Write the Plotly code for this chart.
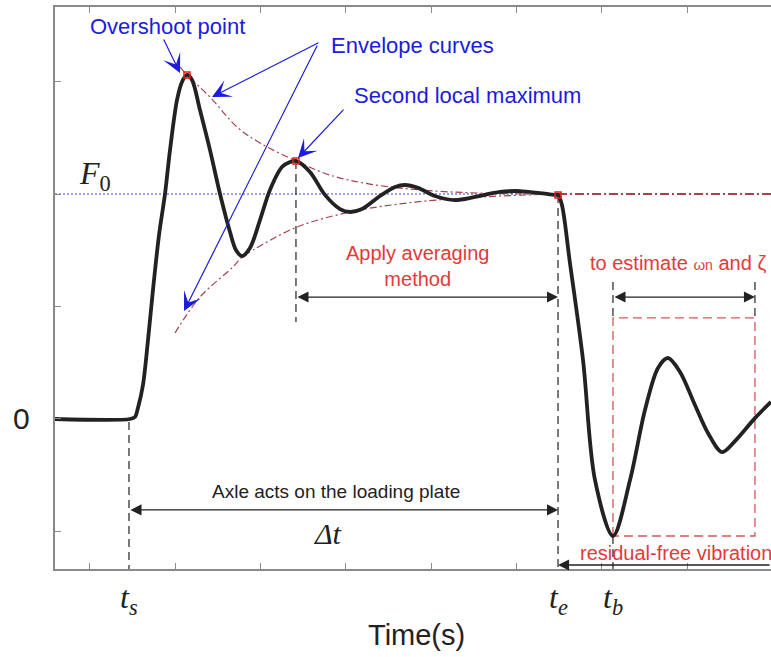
import plotly.graph_objects as go

# ---------------- data (time in tick units, force normalised to F0 = 1) ----------------
force_t = [0.590, 1.469, 1.527, 1.562, 1.621, 1.680, 1.738, 1.809, 1.879, 1.938, 2.020, 2.078,
           2.137, 2.196, 2.289, 2.406, 2.524, 2.641, 2.711, 2.782, 2.875, 2.992, 3.109, 3.250,
           3.344, 3.414, 3.578, 3.754, 3.930, 4.047, 4.188, 4.399, 4.575, 4.691, 4.844, 5.043,
           5.278, 5.512, 5.805, 6.039, 6.274, 6.449, 6.485, 6.531, 6.625, 6.778, 6.918,
           7.129, 7.329, 7.504, 7.657, 7.774, 7.915, 8.090, 8.242, 8.407, 8.559, 8.793, 8.981]
force_v = [0.0, 0.0, 0.009, 0.049, 0.151, 0.351, 0.573, 0.818, 1.0, 1.196, 1.418, 1.498,
           1.529, 1.507, 1.373, 1.196, 1.0, 0.831, 0.751, 0.724, 0.760, 0.884, 1.018, 1.120,
           1.142, 1.147, 1.098, 0.996, 0.933, 0.920, 0.933, 0.991, 1.031, 1.040, 1.027, 0.991,
           0.973, 0.987, 1.009, 1.013, 1.004, 0.996, 0.996, 0.951, 0.693, 0.262, -0.271,
           -0.520, -0.271, 0.040, 0.227, 0.271, 0.209, 0.062, -0.062, -0.147, -0.098, 0.004, 0.076]

upper_env_t = [2.055, 2.137, 2.406, 2.723, 2.992, 3.414, 3.813, 4.281, 4.867, 5.570, 6.485]
upper_env_v = [1.564, 1.529, 1.431, 1.298, 1.227, 1.147, 1.084, 1.044, 1.018, 1.004, 1.0]
lower_env_t = [1.996, 2.289, 2.676, 2.782, 2.910, 3.426, 4.047, 4.633, 5.219, 5.805, 6.485]
lower_env_v = [0.382, 0.542, 0.676, 0.720, 0.751, 0.853, 0.920, 0.956, 0.978, 0.991, 1.0]

F0 = 1.0
T_START = 0.590
T_S = 1.457
T_PEAK1 = 2.137
T_PEAK2 = 3.414
T_E = 6.485
T_B = 7.129
T_R = 8.793
T_END = 8.981
Y_MIN = -0.6667
Y_MAX = 1.8311
V_PEAK1 = 1.529
V_PEAK2 = 1.147
V_END = 0.996
V_BMIN = -0.520
V_BOX_TOP = 0.449
V_BRACKET_TOP = 0.609
V_ARROW_MID = 0.542
V_ARROW_AXLE = -0.404
V_ARROW_RES = -0.649

x_ticks = [1, 2, 3, 4, 5, 6, 7, 8]
y_ticks = [-0.5, 0, 0.5, 1.0, 1.5]

BLACK = "#222222"
BLUE = "#1c1cdc"
RED_TXT = "#e23a3a"
RED_BOX = "#d65858"
ENV = "#a8404f"
SANS = "Liberation Sans, Arial, sans-serif"
SERIF = "Liberation Serif, Times New Roman, serif"

fig = go.Figure()

# F0 reference lines
fig.add_trace(go.Scatter(x=[T_START, T_E], y=[F0, F0], mode="lines",
                         line=dict(color="#7a84d8", width=1.5, dash="2px,2px"), hoverinfo="skip"))
fig.add_trace(go.Scatter(x=[T_E, T_END], y=[F0, F0], mode="lines",
                         line=dict(color=ENV, width=1.8, dash="9px,3px,2px,3px"), hoverinfo="skip"))
# envelopes
for xs, ys in [(upper_env_t, upper_env_v), (lower_env_t, lower_env_v)]:
    fig.add_trace(go.Scatter(x=xs, y=ys, mode="lines", line_shape="spline",
                             line=dict(color=ENV, width=1.2, dash="7px,3px,2px,3px"), hoverinfo="skip"))

# dashed vertical guide lines (black)
dash_black = dict(color=BLACK, width=1.2, dash="8px,5px")
for xs, ys in [([T_S, T_S], [-0.013, Y_MIN]),
               ([T_PEAK2, T_PEAK2], [V_PEAK2, 0.431]),
               ([T_E, T_E], [V_END, Y_MIN]),
               ([T_B, T_B], [V_BMIN, Y_MIN]),
               ([T_B, T_B], [V_BRACKET_TOP, V_BOX_TOP]),
               ([T_R, T_R], [V_BRACKET_TOP, V_BOX_TOP])]:
    fig.add_trace(go.Scatter(x=xs, y=ys, mode="lines", line=dash_black, hoverinfo="skip"))

# red dashed box
fig.add_trace(go.Scatter(x=[T_B, T_B, T_R, T_R, T_B], y=[V_BMIN, V_BOX_TOP, V_BOX_TOP, V_BMIN, V_BMIN],
                         mode="lines", line=dict(color=RED_BOX, width=1.3, dash="9px,5px"),
                         hoverinfo="skip"))

# main force curve
fig.add_trace(go.Scatter(x=force_t, y=force_v, mode="lines", line_shape="spline",
                         line=dict(color=BLACK, width=3.8, smoothing=0.9), hoverinfo="skip"))

# red point markers
fig.add_trace(go.Scatter(x=[T_PEAK1, T_PEAK2, T_E], y=[V_PEAK1, V_PEAK2, V_END], mode="markers",
                         marker=dict(symbol="square-open", size=6, color="#e02020",
                                     line=dict(width=1.5, color="#e02020")), hoverinfo="skip"))

ann = []

def arrow(x0, y0, x1, y1, color, head, size, width, side="end"):
    ann.append(dict(x=x1, y=y1, ax=x0, ay=y0, xref="x", yref="y", axref="x", ayref="y",
                    text="", showarrow=True, arrowhead=head, startarrowhead=head,
                    arrowsize=size, startarrowsize=size, arrowwidth=width,
                    arrowcolor=color, arrowside=side, standoff=0, startstandoff=0))

def label(x, y, text, size, color, font=SANS, xanchor="center", xref="x", yref="y"):
    ann.append(dict(x=x, y=y, xref=xref, yref=yref, text=text, showarrow=False,
                    font=dict(size=size, color=color, family=font), xanchor=xanchor,
                    yanchor="middle"))

# blue callouts
arrow(1.855, 1.693, 2.055, 1.538, BLUE, 3, 2.6, 1.2)
arrow(3.695, 1.676, 2.430, 1.431, BLUE, 3, 2.6, 1.2)
arrow(3.672, 1.667, 2.102, 0.480, BLUE, 3, 2.6, 1.2)
arrow(3.988, 1.382, 3.438, 1.160, BLUE, 3, 2.6, 1.2)
label(1.914, 1.745, "Overshoot point", 22, BLUE)
label(4.774, 1.660, "Envelope curves", 22, BLUE)
label(5.430, 1.440, "Second local maximum", 22, BLUE)

# black double arrows
arrow(T_PEAK2, V_ARROW_MID, T_E, V_ARROW_MID, BLACK, 2, 1.7, 1.3, "end+start")
arrow(T_B, V_ARROW_MID, T_R, V_ARROW_MID, BLACK, 2, 1.7, 1.3, "end+start")
arrow(T_S, V_ARROW_AXLE, T_E, V_ARROW_AXLE, BLACK, 2, 1.7, 1.3, "end+start")
arrow(T_END, V_ARROW_RES, T_E, V_ARROW_RES, BLACK, 2, 1.7, 1.3)

# red texts
label(4.844, 0.680, "Apply averaging<br>method", 20, RED_TXT)
label(6.836, 0.693, "to estimate <span style='font-size:15px'>ω</span><span style='font-size:14px'>n</span> and ζ",
      20, RED_TXT, xanchor="left")
label(6.719, -0.596, "residual-free vibration", 20, RED_TXT, xanchor="left")

# black texts
label(3.883, -0.324, "Axle acts on the loading plate", 19, BLACK)
label(3.789, -0.507, "<i>Δt</i>", 30, BLACK, font=SERIF)
label(1.058, 1.084, "<i>F</i><sub>0</sub>", 32, BLACK, font=SERIF)
label(-0.047, 0.0, "0", 30, BLACK, xref="paper")
label(T_S, -0.055, "<i>t</i><sub><i>s</i></sub>", 32, BLACK, font=SERIF, yref="paper")
label(T_E, -0.055, "<i>t</i><sub><i>e</i></sub>", 32, BLACK, font=SERIF, yref="paper")
label(T_B, -0.055, "<i>t</i><sub><i>b</i></sub>", 32, BLACK, font=SERIF, yref="paper")
label(0.505, -0.117, "Time(s)", 29, BLACK, xref="paper", yref="paper")

fig.update_layout(
    width=771, height=657,
    margin=dict(l=55, r=0, t=7, b=88),
    paper_bgcolor="white", plot_bgcolor="white",
    showlegend=False,
    annotations=ann,
    xaxis=dict(range=[T_START, T_END], tickvals=x_ticks, ticks="inside", ticklen=6,
               tickcolor="#8a8a8a", tickwidth=1.3, showticklabels=False, showline=True,
               linecolor="#8a8a8a", linewidth=1.8, mirror="ticks", showgrid=False, zeroline=False),
    yaxis=dict(range=[Y_MIN, Y_MAX], tickvals=y_ticks, ticks="inside", ticklen=6,
               tickcolor="#8a8a8a", tickwidth=1.3, showticklabels=False, showline=True,
               linecolor="#8a8a8a", linewidth=1.8, mirror=False, showgrid=False, zeroline=False),
)

fig.write_html("out.html")
